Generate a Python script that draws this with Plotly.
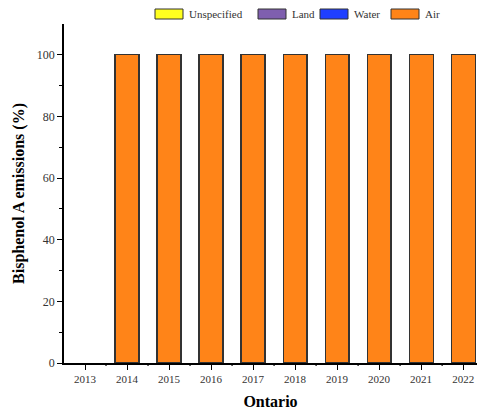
import plotly.graph_objects as go

# Emission share by compartment, Ontario
years = ["2013", "2014", "2015", "2016", "2017", "2018", "2019", "2020", "2021", "2022"]
air = [0, 100, 100, 100, 100, 100, 100, 100, 100, 100]
water = [0, 0, 0, 0, 0, 0, 0, 0, 0, 0]
land = [0, 0, 0, 0, 0, 0, 0, 0, 0, 0]
unspecified = [0, 0, 0, 0, 0, 0, 0, 0, 0, 0]

series = [
    ("Air", air, "#FF8418"),
    ("Water", water, "#1F3FFF"),
    ("Land", land, "#7F5FAF"),
    ("Unspecified", unspecified, "#FFFF1F"),
]

FONT = "Liberation Serif"
W, H = 477, 415
L, R, T, B = 64, 0, 24, 52
PW, PH = W - L - R, H - T - B

fig = go.Figure()
for name, vals, col in series:
    # zero shares are left empty so no outline is drawn for them
    fig.add_trace(go.Bar(
        x=years, y=[v if v else None for v in vals], name=name, width=0.57,
        marker=dict(color=col, line=dict(color="#333333", width=1.2)),
        showlegend=False,
    ))

# Legend drawn as wide swatches with labels along the top
legend_items = [("Unspecified", "#FFFF1F"), ("Land", "#7F5FAF"),
                ("Water", "#1F3FFF"), ("Air", "#FF8418")]
swatch_x = [155, 258, 320, 391]
shapes = []
annotations = []
for (label, col), sx in zip(legend_items, swatch_x):
    shapes.append(dict(type="rect", xref="paper", yref="paper",
                       x0=(sx - L) / PW, x1=(sx + 28 - L) / PW,
                       y0=(H - B - 19) / PH, y1=(H - B - 9) / PH,
                       fillcolor=col, line=dict(color="#333333", width=1)))
    annotations.append(dict(xref="paper", yref="paper",
                            x=(sx + 32 - L) / PW, y=(H - B - 14) / PH,
                            text=label, showarrow=False, xanchor="left", yanchor="middle",
                            font=dict(family=FONT, size=11, color="#333333")))

# Minor ticks between year categories on the x axis
for k in range(10):
    shapes.append(dict(type="line", xref="x", yref="paper", x0=k + 0.5, x1=k + 0.5,
                       y0=0, y1=-3 / PH, line=dict(color="black", width=1.2)))

fig.update_layout(
    width=W, height=H,
    margin=dict(l=L, r=R, t=T, b=B),
    barmode="stack",
    plot_bgcolor="white", paper_bgcolor="white",
    shapes=shapes, annotations=annotations,
    font=dict(family=FONT, color="#333333"),
    xaxis=dict(
        range=[-0.5, 9.33],
        showline=True, linecolor="black", linewidth=1.5,
        ticks="outside", ticklen=5, tickwidth=1.2, tickcolor="black",
        tickfont=dict(family=FONT, size=11, color="#333333"),
        title=dict(text="<b>Ontario</b>", font=dict(family=FONT, size=16, color="black"), standoff=12),
        showgrid=False, zeroline=False,
    ),
    yaxis=dict(
        range=[0, 110],
        showline=True, linecolor="black", linewidth=1.5,
        tickvals=[0, 20, 40, 60, 80, 100],
        ticks="outside", ticklen=5, tickwidth=1.2, tickcolor="black",
        minor=dict(tickvals=[10, 30, 50, 70, 90], ticks="outside", ticklen=3,
                   tickwidth=1.2, tickcolor="black"),
        tickfont=dict(family=FONT, size=12, color="#333333"),
        title=dict(text="<b>Bisphenol A emissions (%)</b>", font=dict(family=FONT, size=16, color="black"), standoff=8),
        showgrid=False, zeroline=False,
    ),
)

fig.write_html("out.html")
